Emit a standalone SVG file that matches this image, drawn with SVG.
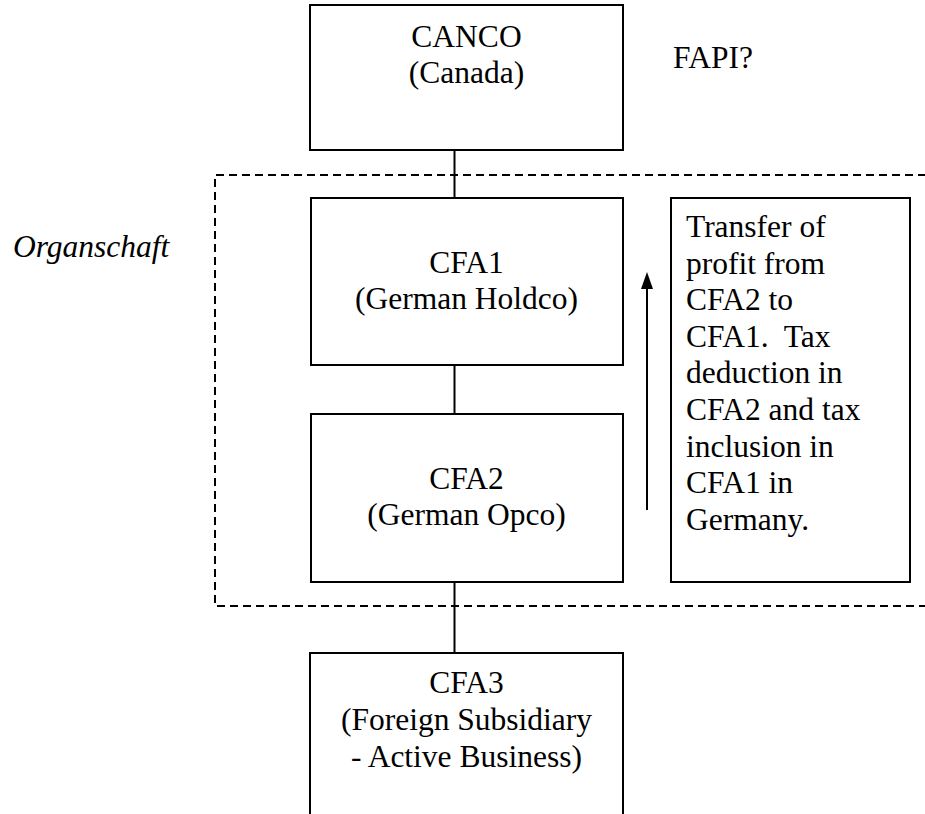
<svg xmlns="http://www.w3.org/2000/svg" width="925" height="814" viewBox="0 0 925 814">
<defs>
<style>
.box{fill:#fff;stroke:#000;stroke-width:2}
.t{font-family:"Liberation Serif","Times New Roman",serif;font-size:31.5px;fill:#000}
.c{text-anchor:middle}
.ln{stroke:#000;stroke-width:2;fill:none}
.dash{stroke:#000;stroke-width:2;fill:none;stroke-dasharray:8,5}
</style>
</defs>
<rect width="925" height="814" fill="#fff"/>
<g id="group-organschaft">
<path class="dash" d="M926,175 H215 V606 H926"/>
<text class="t" x="13" y="257" font-style="italic">Organschaft</text>
</g>
<g id="connectors">
<line class="ln" x1="454.5" y1="150" x2="454.5" y2="198"/>
<line class="ln" x1="454.5" y1="365" x2="454.5" y2="414"/>
<line class="ln" x1="454.5" y1="582" x2="454.5" y2="653"/>
<line class="ln" x1="647" y1="510" x2="647" y2="288"/>
<path d="M641,289 L647,272 L653,289 Z" fill="#000"/>
</g>
<g id="canco">
<rect class="box" x="310" y="5" width="313" height="145"/>
<text class="t c" x="466.5" y="47">CANCO</text>
<text class="t c" x="466.5" y="83">(Canada)</text>
</g>
<g id="fapi">
<text class="t" x="673" y="68">FAPI?</text>
</g>
<g id="cfa1">
<rect class="box" x="311" y="198" width="312" height="167"/>
<text class="t c" x="466.5" y="273">CFA1</text>
<text class="t c" x="466.5" y="309">(German Holdco)</text>
</g>
<g id="cfa2">
<rect class="box" x="311" y="414" width="312" height="168"/>
<text class="t c" x="466.5" y="489">CFA2</text>
<text class="t c" x="466.5" y="525">(German Opco)</text>
</g>
<g id="note">
<rect class="box" x="671" y="198" width="239" height="384"/>
<text class="t" xml:space="preserve"><tspan x="686" y="237">Transfer of</tspan><tspan x="686" y="273.5">profit from</tspan><tspan x="686" y="310">CFA2 to</tspan><tspan x="686" y="347">CFA1.  Tax</tspan><tspan x="686" y="383">deduction in</tspan><tspan x="686" y="420">CFA2 and tax</tspan><tspan x="686" y="457">inclusion in</tspan><tspan x="686" y="493">CFA1 in</tspan><tspan x="686" y="530">Germany.</tspan></text>
</g>
<g id="cfa3">
<rect class="box" x="310" y="653" width="313" height="180"/>
<text class="t c" x="466.5" y="693">CFA3</text>
<text class="t c" x="466.5" y="730">(Foreign Subsidiary</text>
<text class="t c" x="466.5" y="767">- Active Business)</text>
</g>
</svg>
